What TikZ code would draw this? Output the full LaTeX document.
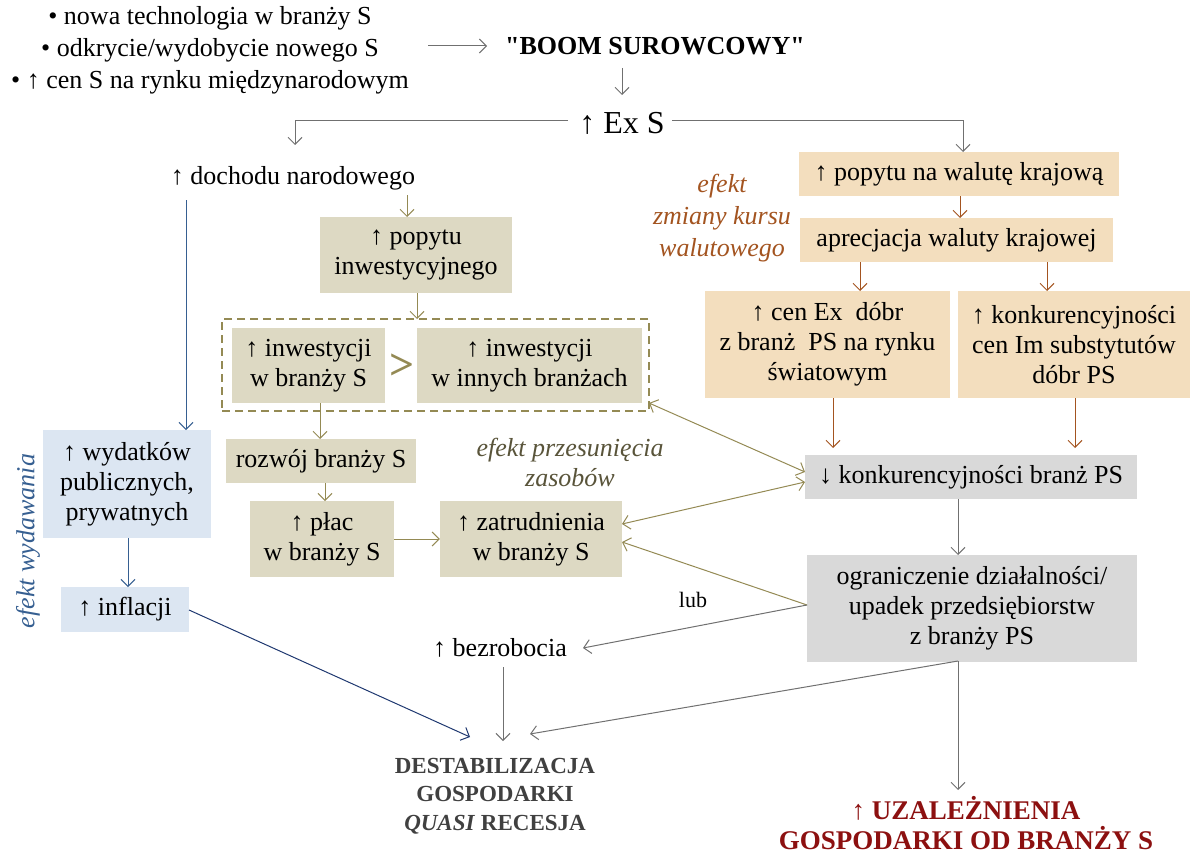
\documentclass[tikz,border=0pt]{standalone}
\usepackage{fontspec}
\setmainfont{Liberation Serif}
\newfontfamily\straightserif{Liberation Serif}[Ligatures=TeXOff]
\usetikzlibrary{arrows.meta,calc}

\definecolor{olivefill}{RGB}{221,217,195}
\definecolor{wheatfill}{RGB}{243,222,190}
\definecolor{grayfill}{RGB}{217,217,217}
\definecolor{bluefill}{RGB}{220,230,242}
\definecolor{olivedraw}{RGB}{148,138,84}
\definecolor{browndraw}{RGB}{163,84,32}
\definecolor{graydraw}{RGB}{112,112,112}
\definecolor{bluedraw}{RGB}{54,95,145}
\definecolor{navydraw}{RGB}{31,56,112}
\definecolor{shifttext}{RGB}{89,84,58}
\definecolor{resulttext}{RGB}{64,64,64}
\definecolor{dependtext}{RGB}{140,16,16}

\tikzset{
  >={Straight Barb[length=7pt,width=14pt]},
  every node/.style={inner sep=0pt, font=\fontsize{26}{30}\selectfont},
  box/.style={rectangle, align=center},
  obox/.style={box, fill=olivefill},
  wbox/.style={box, fill=wheatfill},
  gbox/.style={box, fill=grayfill},
  bbox/.style={box, fill=bluefill},
  frame/.style={rectangle, draw=olivedraw, line width=1.3pt, dash pattern=on 8pt off 5pt},
  link/.style={line width=1pt},
  ga/.style={link, ->, draw=graydraw},
  oa/.style={link, ->, draw=olivedraw},
  ra/.style={link, ->, draw=browndraw},
  ba/.style={link, ->, draw=bluedraw},
  na/.style={link, ->, draw=navydraw},
  sz/.style 2 args={minimum width=#1pt, minimum height=#2pt}
}

\begin{document}
\begin{tikzpicture}[x=1pt, y=-1pt]
\useasboundingbox (0,0) rectangle (1191,856);

% --- sources of the boom ---
\node[align=center, font=\fontsize{26}{32}\selectfont] (src) at (210,50)
  {• nowa technologia w branży S\\• odkrycie/wydobycie nowego S\\• ↑ cen S na rynku międzynarodowym};
\node[font=\fontsize{26}{30}\straightserif\selectfont\bfseries] (boom) at (655,46) {"BOOM SUROWCOWY"};
\node[font=\fontsize{32}{36}\selectfont] (exs) at (622,123) {↑ Ex S};
\node (doch) at (293,178) {↑ dochodu narodowego};

% --- exchange-rate channel ---
\node[wbox, sz={320}{44}] (walpop) at (959,174) {↑ popytu na walutę krajową};
\node[wbox, sz={313}{44}] (aprec) at (956.5,240) {aprecjacja\ waluty\ krajowej};
\node[wbox, sz={245}{107}] (cenex) at (827.5,344.5) {↑ cen Ex\ \ dóbr\\z branż\ \ PS na rynku\\światowym};
\node[wbox, sz={232}{107}] (konk) at (1074,344.5) {↑ konkurencyjności\\cen Im substytutów\\dóbr PS};
\node[align=center, text=browndraw, font=\fontsize{26}{32}\selectfont\itshape] (kurs) at (722,218)
  {efekt\\zmiany kursu\\walutowego};

% --- investment channel ---
\node[obox, sz={192}{76}] (popinw) at (416,255) {↑ popytu\\inwestycyjnego};
\node[frame, sz={427}{92}] (dash) at (435.5,365) {};
\node[obox, sz={153}{75}] (invS) at (308.5,365.5) {↑ inwestycji\\w branży S};
\node[obox, sz={225}{75}] (invO) at (529.5,365.5) {↑ inwestycji\\w innych branżach};
\node[text=olivedraw, font=\fontsize{44}{44}\selectfont\bfseries] (gt) at (402,367) {>};
\node[obox, sz={190}{44}] (rozw) at (321,461) {rozwój branży S};
\node[obox, sz={144}{76}] (plac) at (322,539) {↑ płac\\w branży S};
\node[obox, sz={182}{76}] (zatr) at (531,539) {↑ zatrudnienia\\w branży S};
\node[align=center, text=shifttext, font=\fontsize{26}{30}\selectfont\itshape] (przes) at (570,462)
  {efekt przesunięcia\\zasobów};

% --- competitiveness and its effects ---
\node[gbox, sz={332}{44}] (konkPS) at (971,477) {↓ konkurencyjności branż PS};
\node[gbox, sz={330}{107}] (ogr) at (972,608) {ograniczenie działalności/\\upadek przedsiębiorstw\\z branży PS};
\node (bezr) at (500,648) {↑ bezrobocia};
\node[font=\fontsize{22}{26}\selectfont] (lub) at (693,600) {lub};

% --- spending channel ---
\node[bbox, sz={168}{108}] (wyd) at (127,484) {↑ wydatków\\publicznych,\\prywatnych};
\node[bbox, sz={128}{45}] (infl) at (125,609.5) {↑ inflacji};
\node[rotate=90, text=bluedraw, font=\fontsize{26}{30}\selectfont\itshape] (efwyd) at (28,541) {efekt wydawania};

% --- outcomes ---
\node[align=center, text=resulttext, font=\fontsize{23}{28.5}\selectfont\bfseries] (destab) at (495,796)
  {DESTABILIZACJA\\GOSPODARKI\\\textit{QUASI} RECESJA};
\node[align=center, text=dependtext, font=\fontsize{27}{30}\selectfont\bfseries] (uzal) at (966,823)
  {↑ UZALEŻNIENIA\\GOSPODARKI OD BRANŻY S};

% --- connectors ---
\draw[ga] ($(boom.center)+(-227,0)$) -- ($(boom.center)+(-168,0)$);
\draw[ga] ($(boom.center)+(-33,22)$) -- ($(exs.center)+(0,-28)$);
\draw[ga] ($(exs.center)+(-54,-2)$) -| ($(doch.center)+(2,-33)$);
\draw[ga] ($(exs.center)+(50,-2)$) -| ($(walpop.center)+(4,-22)$);
\draw[ba] ($(doch.center)+(-107,22)$) -- ($(wyd.center)+(59,-54)$);
\draw[oa] ($(doch.center)+(114,17)$) -- ($(popinw.center)+(-9,-38)$);
\draw[oa] ($(popinw.center)+(1,38)$) -- ($(dash.center)+(-18.5,-46)$);
\draw[oa] ($(invS.center)+(11.5,37.5)$) -- ($(rozw.center)+(-1,-22)$);
\draw[oa] ($(rozw.center)+(4,22)$) -- ($(plac.center)+(3,-38)$);
\draw[oa] (plac.east) -- (zatr.west);

\draw[ra] ($(walpop.center)+(1,22)$) -- ($(aprec.center)+(3.5,-22)$);
\draw[ra] ($(aprec.center)+(-96.5,22)$) -- ($(cenex.center)+(32.5,-53.5)$);
\draw[ra] ($(aprec.center)+(90.5,22)$) -- ($(konk.center)+(-27,-53.5)$);
\draw[ra] ($(cenex.center)+(5.5,53.5)$) -- ($(konkPS.center)+(-138,-29)$);
\draw[ra] ($(konk.center)+(1,53.5)$) -- ($(konkPS.center)+(104,-29)$);

\draw[oa, <->] ($(dash.center)+(213.5,38)$) -- ($(konkPS.center)+(-166,-5)$);
\draw[oa, <->] ($(zatr.center)+(91,-15)$) -- ($(konkPS.center)+(-166,5)$);
\draw[oa] ($(ogr.center)+(-165,-3)$) -- ($(zatr.center)+(91,3)$);
\draw[ga] ($(ogr.center)+(-165,-3)$) -- ($(bezr.center)+(83,0)$);

\draw[ga] ($(konkPS.center)+(-13,22)$) -- ($(ogr.center)+(-14,-53)$);
\draw[ga] ($(ogr.center)+(-14,53)$) -- ($(uzal.center)+(-8,-33)$);
\draw[ga] ($(ogr.center)+(-14,53)$) -- ($(destab.center)+(35,-62)$);
\draw[ga] ($(bezr.center)+(3,19)$) -- ($(destab.center)+(8,-55)$);

\draw[ba] ($(wyd.center)+(1,54)$) -- ($(infl.center)+(3,-22.5)$);
\draw[na] ($(infl.center)+(64,0.5)$) -- ($(destab.center)+(-25,-59)$);
\end{tikzpicture}
\end{document}
